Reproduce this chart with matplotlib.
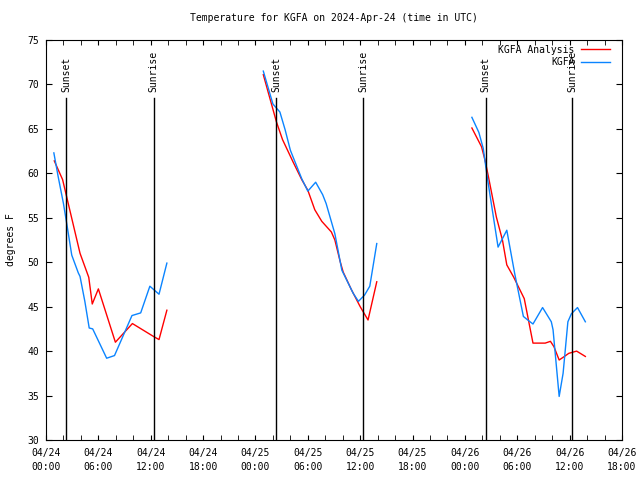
from datetime import datetime, timedelta
import matplotlib
matplotlib.use('Agg')
from matplotlib import pyplot as plt
import matplotlib.dates as mdates

# hours after 2024-04-24 00:00 UTC, temperature in F
analysis_hours = [
    [0.95, 1.9, 3.9, 4.9, 5.3, 6.0, 7.95, 9.9, 12.4, 12.95, 13.85],
    [24.9, 26.4, 27.1, 28.3, 29.3, 30.0, 30.8, 31.6, 32.7, 33.1, 33.7, 34.05,
     35.0, 36.0, 36.9, 37.9],
    [48.8, 49.9, 50.3, 50.7, 51.6, 52.3, 52.8, 53.6, 54.8, 55.8, 57.2, 57.8,
     58.2, 58.8, 59.4, 59.9, 60.8, 61.8],
]
analysis_temps = [
    [61.4, 59.3, 51.0, 48.3, 45.3, 47.0, 41.0, 43.1, 41.6, 41.3, 44.6],
    [71.1, 65.8, 63.8, 61.3, 59.3, 58.1, 55.9, 54.6, 53.4, 52.5, 50.1, 48.9,
     46.9, 45.0, 43.5, 47.8],
    [65.1, 63.0, 61.5, 59.6, 55.1, 52.5, 49.7, 48.3, 45.9, 40.9, 40.9, 41.1,
     40.5, 39.0, 39.4, 39.75, 40.0, 39.4],
]
obs_hours = [
    [0.9, 1.4, 2.0, 2.4, 2.95, 3.7, 3.9, 4.45, 4.95, 5.35, 6.95, 7.85, 9.85,
     10.85, 11.9, 12.95, 13.85],
    [24.9, 26.0, 26.8, 27.4, 28.0, 29.3, 30.0, 30.9, 31.7, 32.1, 33.1, 33.9,
     35.2, 35.8, 36.5, 37.1, 37.9],
    [48.8, 49.6, 50.1, 50.5, 50.9, 51.8, 52.8, 53.7, 54.7, 55.2, 55.8, 56.9,
     57.9, 58.1, 58.8, 59.25, 59.8, 60.2, 60.9, 61.8],
]
obs_temps = [
    [62.3, 59.6, 56.6, 54.2, 50.8, 48.8, 48.4, 45.6, 42.6, 42.5, 39.2, 39.5,
     44.0, 44.3, 47.3, 46.4, 49.9],
    [71.5, 67.8, 66.9, 64.9, 62.6, 59.4, 58.0, 59.0, 57.6, 56.6, 53.2, 49.1,
     46.5, 45.6, 46.3, 47.3, 52.1],
    [66.3, 64.6, 62.8, 60.0, 57.4, 51.7, 53.6, 48.75, 43.9, 43.5, 43.05, 44.9,
     43.3, 42.4, 34.9, 37.5, 43.3, 44.2, 44.9, 43.3],
]
sunset_hours = [2.32, 26.34, 50.36]
sunrise_hours = [12.36, 36.33, 60.3]

start = datetime(2024, 4, 24)


def to_time(hours):
    return [start + timedelta(hours=h) for h in hours]


plt.rcParams['font.family'] = 'DejaVu Sans Mono'
plt.rcParams['font.size'] = 7

fig = plt.figure(figsize=(6.4, 4.8), dpi=100)
ax = fig.add_axes([46 / 640, 40 / 480, 576 / 640, 400 / 480])

for h, t in zip(analysis_hours, analysis_temps):
    ax.plot(to_time(h), t, color='#ff0000', lw=1.0)
for h, t in zip(obs_hours, obs_temps):
    ax.plot(to_time(h), t, color='#0a84ff', lw=1.0)

for label, hours in (('Sunset', sunset_hours), ('Sunrise', sunrise_hours)):
    for h in hours:
        x = start + timedelta(hours=h)
        ax.plot([x, x], [30, 68.5], color='black', lw=1.0)
        ax.text(x, 69.2, label, rotation=90, ha='center', va='bottom')

# gnuplot-like key
ax.text(0.918, 0.976, 'KGFA Analysis', transform=ax.transAxes, ha='right', va='center')
ax.plot([0.929, 0.979], [0.977, 0.977], transform=ax.transAxes, color='#ff0000', lw=1.0)
ax.text(0.918, 0.944, 'KGFA', transform=ax.transAxes, ha='right', va='center')
ax.plot([0.929, 0.979], [0.945, 0.945], transform=ax.transAxes, color='#0a84ff', lw=1.0)

ax.set_xlim(start, start + timedelta(hours=66))
ax.set_ylim(30, 75)
ax.set_yticks(range(30, 76, 5))
ax.xaxis.set_major_locator(mdates.HourLocator(byhour=[0, 6, 12, 18]))
ax.xaxis.set_minor_locator(mdates.HourLocator(interval=2))
ax.xaxis.set_major_formatter(mdates.DateFormatter('%m/%d\n%H:%M'))
for lab in ax.get_xticklabels():
    lab.set_linespacing(1.5)
ax.tick_params(axis='both', which='both', direction='in', top=True, right=True)
ax.tick_params(axis='x', which='both', length=3.5, pad=6)
ax.tick_params(axis='y', length=4, pad=5)

ax.set_title('Temperature for KGFA on 2024-Apr-24 (time in UTC)', fontsize=7, pad=14)
ax.set_ylabel('degrees F', labelpad=8)

fig.savefig('out.png', dpi=100)
